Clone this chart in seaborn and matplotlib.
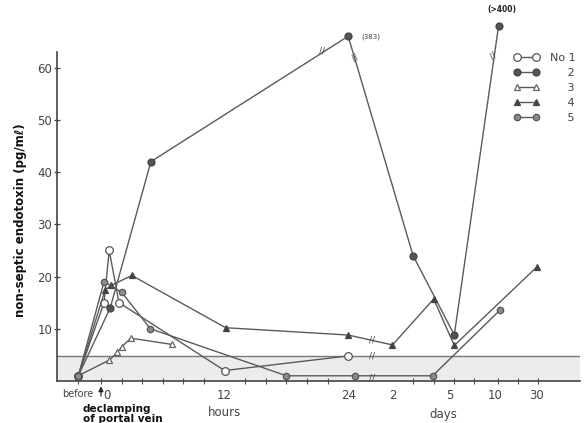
import matplotlib
matplotlib.use("Agg")
import matplotlib.pyplot as plt
from matplotlib.lines import Line2D
import seaborn as sns
import pandas as pd

# ---- data (x in axis position units: hours; day points placed on the broken day scale) ----
s1_x = [-2.2, 0.3, 0.8, 1.75, 12.0, 24.0]
s1_y = [1.0, 15.0, 25.0, 15.0, 2.0, 4.8]

s2_x = [-2.2, 0.9, 4.85, 24.0, 30.3, 34.3, 38.6]
s2_y = [1.0, 14.0, 42.0, 66.0, 24.0, 8.8, 68.0]

s3_x = [-2.2, 0.8, 1.6, 2.0, 2.9, 6.9]
s3_y = [1.0, 4.0, 5.5, 6.5, 8.2, 7.0]

s4_x = [-2.2, 0.4, 1.0, 3.0, 12.1, 24.0, 28.3, 32.3, 34.3, 42.3]
s4_y = [1.0, 17.4, 18.3, 20.2, 10.2, 8.8, 6.9, 15.7, 6.8, 21.8]

s5_x = [-2.2, 0.3, 2.0, 4.8, 18.0, 24.7, 32.2, 38.7]
s5_y = [1.0, 19.0, 17.0, 10.0, 1.0, 1.0, 1.0, 13.5]

series_names = ["No 1", "2", "3", "4", "5"]

tick_label_pos = [-2.3, 0.55, 12, 24, 28.3, 33.9, 38.3, 42.3]
tick_labels = ["before", "0", "12", "24", "2", "5", "10", "30"]
tick_mark_pos = [-2.2, 0, 2, 4, 6, 8, 10, 12, 14, 16, 18, 20, 22, 24,
                 28.3, 30.3, 32.3, 34.3, 36.2, 38.5, 40.5, 42.4]
y_ticks = [10, 20, 30, 40, 50, 60]
normal_upper = 4.8

# ---- figure ----
sns.set_theme(style="white")
plt.rcParams['font.family'] = ['DejaVu Sans']
fig = plt.figure(figsize=(5.85, 4.23), dpi=100)
ax = fig.add_axes([0.0974, 0.0993, 0.894, 0.778])

line_col = "#5a5a5a"
ax.axhspan(0, normal_upper, color="#ececec", zorder=0, lw=0)
ax.axhline(normal_upper, color="#777777", lw=1.0, zorder=1)

styles = [
    dict(marker="o", markersize=5.5, markerfacecolor="white", markeredgecolor="#555555"),
    dict(marker="o", markersize=5.0, markerfacecolor="#555555", markeredgecolor="#444444"),
    dict(marker="^", markersize=3.8, markerfacecolor="white", markeredgecolor="#666666"),
    dict(marker="^", markersize=4.8, markerfacecolor="#444444", markeredgecolor="#444444"),
    dict(marker="o", markersize=4.6, markerfacecolor="#8a8a8a", markeredgecolor="#555555"),
]
all_x = [s1_x, s2_x, s3_x, s4_x, s5_x]
all_y = [s1_y, s2_y, s3_y, s4_y, s5_y]
for name, xs, ys, st in zip(series_names, all_x, all_y, styles):
    df = pd.DataFrame({"x": xs, "y": ys})
    sns.lineplot(data=df, x="x", y="y", ax=ax, sort=False, estimator=None,
                 color=line_col, lw=1.0, clip_on=False, zorder=3,
                 markeredgewidth=0.9, **st)

ax.set_xlim(-4.27, 46.5)
ax.set_ylim(0, 63)
ax.set_xlabel("")
ax.set_ylabel("non-septic endotoxin (pg/m\u2113)", fontsize=8.5, fontweight="bold",
              color="#111111")
ax.yaxis.set_label_coords(-0.058, 0.49)

for s in ["top", "right"]:
    ax.spines[s].set_visible(False)
for s in ["left", "bottom"]:
    ax.spines[s].set_color("#444444")
    ax.spines[s].set_linewidth(1.2)

ax.set_yticks(y_ticks)
ax.tick_params(axis="y", direction="inout", length=5, width=0.9, colors="#444444",
               labelsize=8.5, pad=1, left=True)
ax.set_xticks(tick_label_pos)
ax.set_xticklabels(tick_labels)
ax.set_xticks(tick_mark_pos, minor=True)
ax.tick_params(axis="x", which="major", length=0, labelsize=8.5, colors="#444444", pad=6,
               bottom=True)
ax.tick_params(axis="x", which="minor", direction="inout", length=4, width=0.8,
               color="#555555", bottom=True)
ax.get_xticklabels()[0].set_fontsize(7)

# axis text
ax.text(12, -6.1, "hours", ha="center", va="center", fontsize=8.5, color="#444444",
        clip_on=False)
ax.text(33.2, -6.4, "days", ha="center", va="center", fontsize=8.5, color="#444444",
        clip_on=False)
ax.annotate("", xy=(0, -0.5), xytext=(0, -3.4), xycoords="data",
            arrowprops=dict(arrowstyle="-|>", color="#222222", lw=0.9, mutation_scale=7),
            annotation_clip=False)
ax.text(-1.75, -5.3, "declamping", ha="left", va="center", fontsize=7.5,
        fontweight="bold", color="#111111", clip_on=False)
ax.text(-1.75, -7.2, "of portal vein", ha="left", va="center", fontsize=7.5,
        fontweight="bold", color="#111111", clip_on=False)

# value notes and scale-break marks
ax.text(25.3, 65.9, "(383)", ha="left", va="center", fontsize=5, color="#444444",
        clip_on=False)
ax.text(38.9, 70.3, "(>400)", ha="center", va="bottom", fontsize=5.5, fontweight="bold",
        color="#222222", clip_on=False)
for bx, by, rot in [(21.5, 63.2, 0), (24.7, 61.9, 40), (38.1, 62.3, 40),
                    (26.3, 0.6, 0), (26.3, normal_upper, 0), (26.3, 7.8, 0)]:
    ax.text(bx, by, "//", ha="center", va="center", fontsize=6.5, color="#444444",
            rotation=rot, clip_on=False, zorder=4)

# legend
handles = [Line2D([0], [0], color=line_col, lw=1.0, markeredgewidth=0.9, **st)
           for st in styles]
labels = ["No 1", "     2", "     3", "     4", "     5"]
leg = ax.legend(handles, labels, loc="upper left", numpoints=2, frameon=False,
                bbox_to_anchor=(508 / 585, 1 - 47 / 423), bbox_transform=fig.transFigure,
                fontsize=8, handlelength=2.3, handletextpad=1.0, labelspacing=0.45,
                borderpad=0)
for t in leg.get_texts():
    t.set_color("#444444")

fig.savefig("out.png", dpi=100)
